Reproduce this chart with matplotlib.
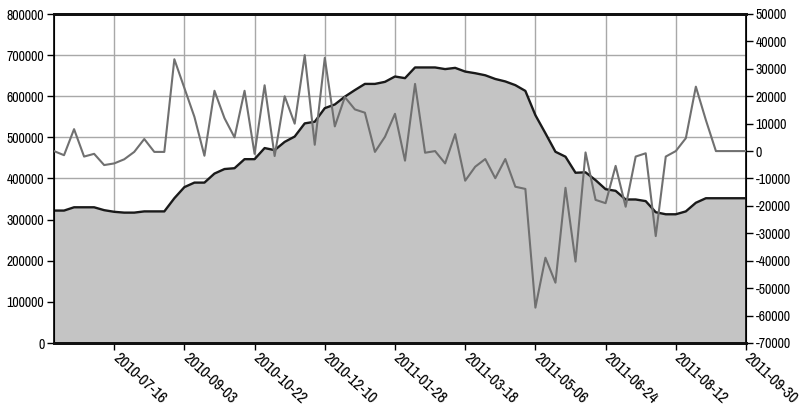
import matplotlib
matplotlib.use("Agg")
import matplotlib.pyplot as plt
from matplotlib import font_manager as fm
from matplotlib.transforms import ScaledTranslation
import pandas as pd

# pick a narrow font if one is installed
_entries = fm.fontManager.ttflist
_names = {f.name for f in _entries}
FONT = None
STRETCH = "normal"
for cand in ["Liberation Sans Narrow", "Arial Narrow", "Nimbus Sans Narrow", "DejaVu Sans Condensed"]:
    if cand in _names:
        FONT = cand
        break
if FONT is None:
    narrow = [f.name for f in _entries if ("Narrow" in f.name or "Condensed" in f.name)]
    if narrow:
        FONT = sorted(narrow)[0]
if FONT is None:
    cond = [f for f in _entries if str(f.stretch) in ("condensed", "semi-condensed", "extra-condensed")
            or (isinstance(f.stretch, int) and f.stretch < 500)]
    if cond:
        FONT = cond[0].name
        STRETCH = "condensed"
if FONT is None:
    FONT = "Liberation Sans"
    FSY, FSX = 8.0, 9.0
else:
    FSY, FSX = 10.0, 11.5
plt.rcParams['font.family'] = [FONT, 'DejaVu Sans']
plt.rcParams['font.stretch'] = STRETCH

# Weekly dates (Fridays)
dates = pd.date_range("2010-06-04", "2011-09-30", freq="7D")

# Holdings (left axis, filled area)
holdings = [
    322000, 322000, 330000, 330000, 330000, 323000, 319000, 317000, 317000, 320000,
    320000, 320000, 352000, 379000, 390000, 390000, 412000, 423000, 425000, 447000,
    447000, 474000, 469000, 489000, 502000, 534000, 538000, 571000, 580000, 599000,
    615000, 630000, 630000, 635000, 648000, 644000, 670000, 670000, 670000, 666000,
    669000, 660000, 656000, 651000, 642000, 636000, 627000, 613000, 554000, 510000,
    465000, 453000, 414000, 415000, 396000, 374000, 370000, 349000, 349000, 345000,
    318000, 313000, 313000, 320000, 341000, 352000, 352000, 352000, 352000, 352000,
]

# Weekly change (right axis, gray line)
change = [
    0, -1500, 8000, -2000, -1000, -5100, -4500, -3000, -300, 4400,
    -300, -300, 33500, 23000, 12500, -1700, 22000, 12000, 5000, 22000,
    -1000, 24000, -1800, 20000, 10000, 35000, 2300, 34000, 9000, 19700,
    15200, 14000, -300, 5200, 13600, -3500, 24500, -600, 0, -4500,
    6200, -10800, -5700, -2900, -9900, -2900, -13000, -13800, -57100, -38900,
    -48000, -13400, -40300, -500, -17800, -19000, -5400, -20300, -2000, -800,
    -31000, -2000, 0, 4700, 23500, 11300, 0, 0, 0, 0,
]

tick_dates = ["2010-07-16", "2010-09-03", "2010-10-22", "2010-12-10", "2011-01-28",
              "2011-03-18", "2011-05-06", "2011-06-24", "2011-08-12", "2011-09-30"]
left_ticks = list(range(0, 800001, 100000))
right_ticks = list(range(-70000, 50001, 10000))

fig = plt.figure(figsize=(8.04, 4.11), dpi=100)
ax = fig.add_axes([54/804, (411-343)/411, (746-54)/804, (343-14)/411])

ax.fill_between(dates, holdings, 0, color="#c4c4c4", zorder=2, linewidth=0)
ax.plot(dates, holdings, color="#1a1a1a", lw=1.7, zorder=3)

ax.set_ylim(0, 800000)
ax.set_yticks(left_ticks)
ax.set_yticklabels([str(v) for v in left_ticks], fontsize=FSY)
ax.set_xlim(dates[0], dates[-1])
tds = pd.to_datetime(tick_dates)
ax.set_xticks(tds)
ax.set_xticklabels(tick_dates, rotation=-43, ha="left", va="top",
                   rotation_mode="anchor", fontsize=FSX)
ax.grid(True, color="#a8a8a8", lw=1, zorder=0)
ax.set_axisbelow(True)
ax.tick_params(axis="both", direction="out", length=5, width=1, color="black", pad=2)
ax.tick_params(axis="x", pad=2)
off = ScaledTranslation(0.06, 0.02, fig.dpi_scale_trans)
for lbl in ax.get_xticklabels():
    lbl.set_transform(lbl.get_transform() + off)
for s in ["top", "bottom"]:
    ax.spines[s].set_linewidth(2)
    ax.spines[s].set_color("#111111")
ax.spines["left"].set_linewidth(1.2)
ax.spines["right"].set_linewidth(1.2)

ax2 = ax.twinx()
ax2.plot(dates, change, color="#707070", lw=1.5, zorder=4)
ax2.set_ylim(-70000, 50000)
ax2.set_yticks(right_ticks)
ax2.set_yticklabels([str(v) for v in right_ticks], fontsize=FSY)
ax2.tick_params(axis="y", direction="out", length=5, width=1, pad=2)
for s in ["top", "bottom"]:
    ax2.spines[s].set_linewidth(2)
    ax2.spines[s].set_color("#111111")

fig.savefig("out.png", dpi=100)
